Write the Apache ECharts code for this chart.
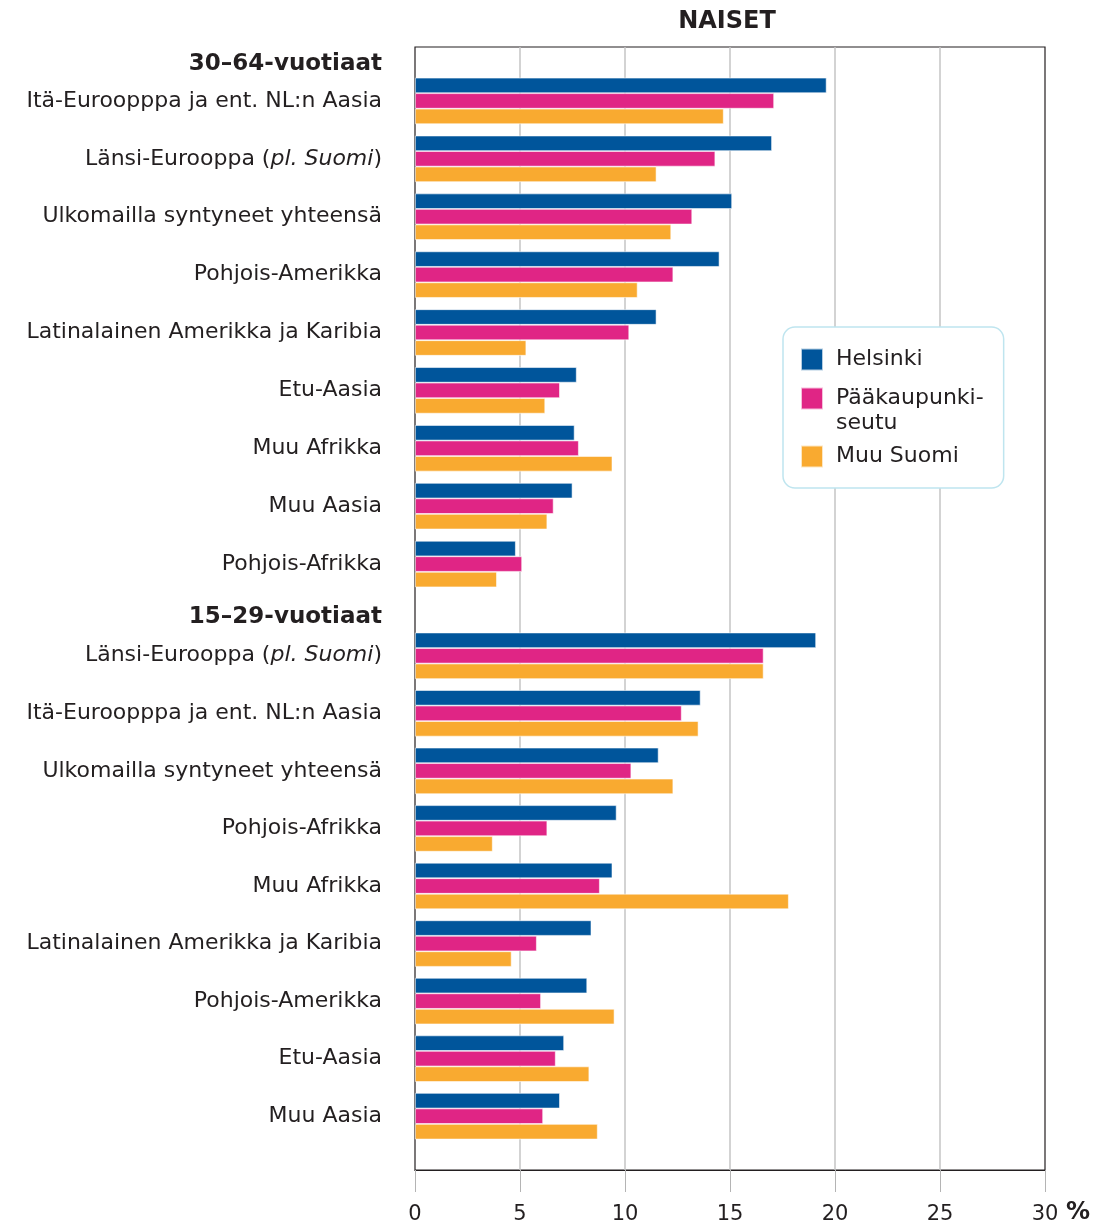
<!DOCTYPE html>
<html>
<head>
<meta charset="utf-8">
<script src="https://cdn.jsdelivr.net/npm/echarts@6/dist/echarts.min.js"></script>
<style>
  html, body { margin: 0; padding: 0; background: #fff; }
  #chart { width: 1097px; height: 1226px; }
</style>
</head>
<body>
<div id="chart"></div>
<script>
// 30–64-vuotiaat
const catsA = ['Itä-Euroopppa ja ent. NL:n Aasia', 'Länsi-Eurooppa (pl. Suomi)', 'Ulkomailla syntyneet yhteensä',
  'Pohjois-Amerikka', 'Latinalainen Amerikka ja Karibia', 'Etu-Aasia', 'Muu Afrikka', 'Muu Aasia', 'Pohjois-Afrikka']
const helA = [19.6, 17.0, 15.1, 14.5, 11.5, 7.7, 7.6, 7.5, 4.8]
const paaA = [17.1, 14.3, 13.2, 12.3, 10.2, 6.9, 7.8, 6.6, 5.1]
const muuA = [14.7, 11.5, 12.2, 10.6, 5.3, 6.2, 9.4, 6.3, 3.9]

// 15–29-vuotiaat
const catsB = ['Länsi-Eurooppa (pl. Suomi)', 'Itä-Euroopppa ja ent. NL:n Aasia', 'Ulkomailla syntyneet yhteensä',
  'Pohjois-Afrikka', 'Muu Afrikka', 'Latinalainen Amerikka ja Karibia', 'Pohjois-Amerikka', 'Etu-Aasia', 'Muu Aasia']
const helB = [19.1, 13.6, 11.6, 9.6, 9.4, 8.4, 8.2, 7.1, 6.9]
const paaB = [16.6, 12.7, 10.3, 6.3, 8.8, 5.8, 6.0, 6.7, 6.1]
const muuB = [16.6, 13.5, 12.3, 3.7, 17.8, 4.6, 9.5, 8.3, 8.7]

const seriesNames = ['Helsinki', 'Pääkaupunki-seutu', 'Muu Suomi']
const colors = ['#00559b', '#e02585', '#f9aa30']
const xTicks = [0, 5, 10, 15, 20, 25, 30]

const FONT = 'DejaVu Sans'
const TXT = '#231f20'

const chart = echarts.init(document.getElementById('chart'))

const catLabel = {
  fontFamily: FONT, fontSize: 22, color: TXT, margin: 33,
  formatter: v => v.replace('(pl. Suomi)', '({i|pl. Suomi})'),
  rich: { i: { fontFamily: FONT, fontSize: 22, color: TXT, fontStyle: 'italic' } }
}

const catAxis = (idx, data) => ({
  type: 'category', gridIndex: idx, data: data, inverse: true,
  axisLine: { show: false }, axisTick: { show: false },
  axisLabel: catLabel
})

const hiddenX = idx => ({ type: 'value', gridIndex: idx, min: 0, max: 30, interval: 5, show: false })

const bar = (name, data, color, idx) => ({
  name: name, type: 'bar', xAxisIndex: idx, yAxisIndex: idx, data: data,
  barWidth: 15.5, barGap: '0%',
  itemStyle: { color: color, borderColor: 'rgba(255,255,255,0.7)', borderWidth: 0.8 }
})

const option = {
  animation: false,
  title: {
    text: 'NAISET', left: 722, top: 5, textAlign: 'center',
    textStyle: { fontFamily: FONT, fontSize: 24, fontWeight: 'bold', color: TXT }
  },
  legend: {
    orient: 'vertical', left: 783, top: 327,
    data: [
      { name: seriesNames[0] },
      { name: seriesNames[1] },
      { name: seriesNames[2], textStyle: { padding: [19, 0, 19, 8] } }
    ],
    formatter: n => n === 'Pääkaupunki-seutu' ? '\nPääkaupunki-\nseutu' : n,
    icon: 'rect', itemWidth: 22, itemHeight: 22, itemGap: -11,
    padding: [20, 20, 0, 17],
    backgroundColor: '#fff', borderColor: '#bfe5ef', borderWidth: 1.5, borderRadius: 12,
    textStyle: { fontFamily: FONT, fontSize: 22, color: TXT, lineHeight: 25, padding: [0, 0, 0, 8] }
  },
  grid: [
    { left: 415, right: 52, top: 47, bottom: 56, show: true, borderColor: '#231f20', borderWidth: 1.2, backgroundColor: 'transparent' },
    { left: 415, right: 52, top: 72, height: 521 },
    { left: 415, right: 52, top: 627, height: 518 }
  ],
  xAxis: [
    {
      type: 'value', gridIndex: 0, min: 0, max: 30, interval: 5,
      axisLine: { show: true, lineStyle: { color: '#231f20', width: 1.2 } },
      axisTick: { show: true, length: 22, lineStyle: { color: '#b4b4b4', width: 1 } },
      splitLine: { show: true, showMinLine: false, showMaxLine: false, lineStyle: { color: '#c4c4c4', width: 1.5 } },
      axisLabel: {
        margin: 34, fontFamily: FONT, fontSize: 21, color: TXT,
        formatter: v => xTicks.includes(v) ? String(v) : ''
      }
    },
    hiddenX(1),
    hiddenX(2)
  ],
  yAxis: [
    { type: 'value', gridIndex: 0, show: false, min: 0, max: 1 },
    catAxis(1, catsA),
    catAxis(2, catsB)
  ],
  graphic: [
    { type: 'text', right: 1097 - 382, top: 53, style: { text: '30–64-vuotiaat', font: 'bold 23px "DejaVu Sans"', fill: TXT, textAlign: 'right' } },
    { type: 'text', right: 1097 - 382, top: 606, style: { text: '15–29-vuotiaat', font: 'bold 23px "DejaVu Sans"', fill: TXT, textAlign: 'right' } },
    { type: 'text', left: 1066, top: 1201, style: { text: '%', font: 'bold 24px "DejaVu Sans"', fill: TXT } }
  ],
  series: [
    bar(seriesNames[0], helA, colors[0], 1),
    bar(seriesNames[1], paaA, colors[1], 1),
    bar(seriesNames[2], muuA, colors[2], 1),
    bar(seriesNames[0], helB, colors[0], 2),
    bar(seriesNames[1], paaB, colors[1], 2),
    bar(seriesNames[2], muuB, colors[2], 2)
  ]
}

chart.setOption(option)
</script>
</body>
</html>
